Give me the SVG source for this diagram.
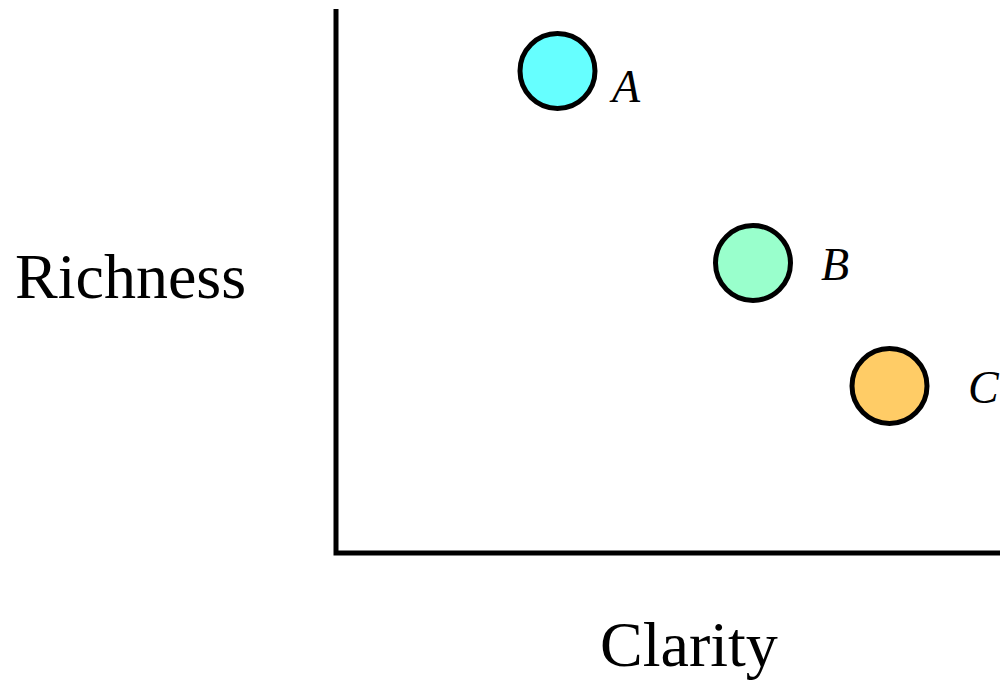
<svg xmlns="http://www.w3.org/2000/svg" width="1000" height="680" viewBox="0 0 1000 680">
  <style>
    .axis { stroke: #000; stroke-width: 5; fill: none; }
    .pt { stroke: #000; stroke-width: 5; }
    .lbl { font-family: "Liberation Serif", "Times New Roman", serif; font-style: italic; font-size: 46px; fill: #000; }
    .title { font-family: "Liberation Serif", "Times New Roman", serif; font-size: 64px; fill: #000; }
  </style>
  <rect width="1000" height="680" fill="#fff"/>
  <g id="axes">
    <polyline class="axis" points="336,9 336,553 1000,553"/>
  </g>
  <g id="connectors"/>
  <g id="node-a">
    <circle class="pt" cx="557.5" cy="71" r="37.5" fill="#66FFFF"/>
    <text class="lbl" x="612" y="102">A</text>
  </g>
  <g id="node-b">
    <circle class="pt" cx="753" cy="263" r="37.5" fill="#99FFCC"/>
    <text class="lbl" x="821" y="280">B</text>
  </g>
  <g id="node-c">
    <circle class="pt" cx="889.5" cy="386" r="37.5" fill="#FFCC66"/>
    <text class="lbl" x="968" y="403">C</text>
  </g>
  <text class="title" x="15" y="298">Richness</text>
  <text class="title" x="600" y="666">Clarity</text>
</svg>
